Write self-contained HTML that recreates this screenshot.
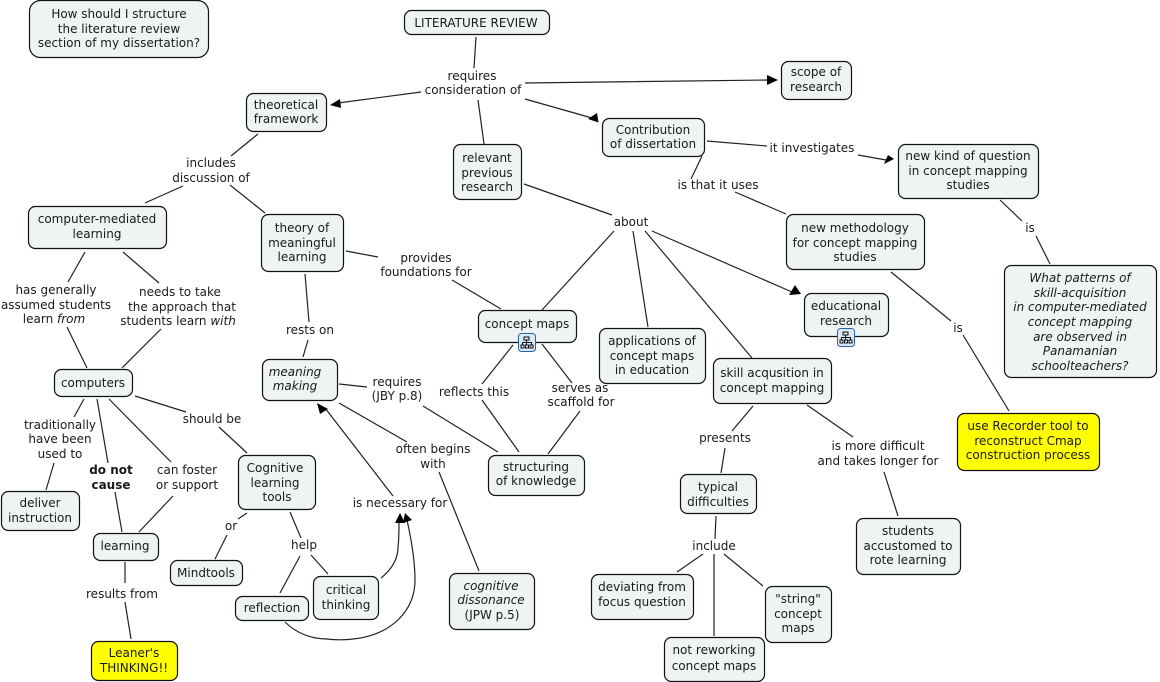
<!DOCTYPE html>
<html><head><meta charset="utf-8"><style>
html,body{margin:0;padding:0;background:#fff}
svg{display:block}
text{font-family:"DejaVu Sans","Liberation Sans",sans-serif;font-size:12px;fill:#1a1a1a;text-anchor:middle}
.n{fill:#eef3f3;stroke:#111;stroke-width:1.2}
.y{fill:#ffff00;stroke:#111;stroke-width:1.2}
.l{stroke:#222;stroke-width:1.2;fill:none}
.a{fill:#000}
.i{font-style:italic}
.b{font-weight:bold}
</style></head><body>
<svg width="1160" height="682" viewBox="0 0 1160 682" xmlns="http://www.w3.org/2000/svg">
<g class="l">
<path d="M476 37L474 68M478 100L484 144M525 83L770 80M525 99L592 118M421 92L338 103"/>
<path d="M258 134L231 156M183 186L145 203M230 185L265 213"/>
<path d="M707 141L767 146M858 155L886 160M702 156L691 179M735 192L786 214M1000 200L1022 221M1036 236L1050 264"/>
<path d="M524 184L612 215M614 231L542 310M633 231L648 327M645 231L752 358M652 231L792 292"/>
<path d="M891 272L951 321M963 335L1009 411"/>
<path d="M346 251L378 257M452 280L501 309M305 274L309 322M308 340L303 357"/>
<path d="M85 252L68 282M123 252L159 283M67 327L87 368M161 329L122 368"/>
<path d="M339 384L367 387M423 406L498 452M339 403L407 442M439 472L479 571"/>
<path d="M513 345L482 384M482 400L519 452M542 344L572 383M580 411L548 454"/>
<path d="M753 406L732 431M725 448L721 473M807 405L853 437M884 472L898 516M716 516L715 539M703 554L677 572M714 554L714 636M724 554L763 586"/>
<path d="M135 396L186 412M219 427L247 453M109 399L171 462M97 399L108 463M84 399L74 417M54 463L46 490M115 492L122 532M173 496L139 532M125 562L125 583M125 602L131 639"/>
<path d="M290 512L301 538M300 556L280 593M311 555L328 574M247 513L238 519M227 535L215 559"/>
<path d="M393 496L325 408"/>
<path d="M381 578C391 570 398 560 398 547C399 540 399 530 399 520"/>
<path d="M285 622C295 632 310 639 327 639C335 640 345 640 353 639C392 635 415 610 415 580C415 560 411 538 407 520"/>
</g>
<g class="a">
<polygon points="778,80 767,75 767,85"/>
<polygon points="598.500,122.500 597,113 588,119"/>
<polygon points="330,105 340,99 341,108"/>
<polygon points="894,159 888,155 884,164"/>
<polygon points="801,294 795,285 789,295"/>
<polygon points="317,403 328,409 320,414"/>
<polygon points="400,513 395,523 405,523"/>
<polygon points="405,513 403,523 412,520"/>
</g>

<rect class="n" x="29.500" y="0.500" width="179" height="57" rx="11"/>
<rect class="n" x="404.500" y="10.500" width="145" height="24" rx="7"/>
<rect class="n" x="781.500" y="61.500" width="70" height="38" rx="7"/>
<rect class="n" x="246.500" y="93.500" width="80" height="38" rx="7"/>
<rect class="n" x="602.500" y="118.500" width="102" height="38" rx="7"/>
<rect class="n" x="453.500" y="144.500" width="68" height="55" rx="7"/>
<rect class="n" x="898.500" y="144.500" width="140" height="54" rx="7"/>
<rect class="n" x="786.500" y="214.500" width="138" height="55" rx="7"/>
<rect class="n" x="28.500" y="206.500" width="138" height="42" rx="7"/>
<rect class="n" x="261.500" y="214.500" width="82" height="57" rx="7"/>
<rect class="n" x="1004.500" y="265.500" width="152" height="112" rx="7"/>
<rect class="n" x="478.500" y="310.500" width="98" height="32" rx="7"/>
<rect class="n" x="804.500" y="293.500" width="84" height="43" rx="7"/>
<rect class="n" x="599.500" y="328.500" width="106" height="55" rx="7"/>
<rect class="n" x="713.500" y="358.500" width="118" height="45" rx="7"/>
<rect class="n" x="262.500" y="359.500" width="75" height="41" rx="7"/>
<rect class="n" x="54.500" y="369.500" width="78" height="27" rx="7"/>
<rect class="y" x="957.500" y="413.500" width="142" height="57" rx="7"/>
<rect class="n" x="488.500" y="455.500" width="96" height="40" rx="7"/>
<rect class="n" x="238.500" y="455.500" width="77" height="54" rx="7"/>
<rect class="n" x="680.500" y="474.500" width="76" height="39" rx="7"/>
<rect class="n" x="1.500" y="491.500" width="78" height="39" rx="7"/>
<rect class="n" x="93.500" y="533.500" width="65" height="27" rx="7"/>
<rect class="n" x="856.500" y="518.500" width="104" height="56" rx="7"/>
<rect class="n" x="170.500" y="560.500" width="72" height="25" rx="7"/>
<rect class="n" x="449.500" y="573.500" width="85" height="56" rx="7"/>
<rect class="n" x="591.500" y="574.500" width="102" height="45" rx="7"/>
<rect class="n" x="765.500" y="586.500" width="66" height="56" rx="7"/>
<rect class="n" x="235.500" y="596.500" width="73" height="24" rx="7"/>
<rect class="n" x="313.500" y="576.500" width="65" height="43" rx="7"/>
<rect class="n" x="664.500" y="637.500" width="100" height="44" rx="7"/>
<rect class="y" x="91.500" y="641.500" width="86" height="39" rx="7"/>

<g>
<rect x="518.500" y="333.500" width="17" height="18" rx="3" fill="#dbe8f6" stroke="#2a62a8"/>
<path d="M524 337h5v3h-5zM521 345h3v3h-3zM525.500 345h3v3h-3zM530 345h3v3h-3zM526.500 340v5M522.500 345v-2.500h9v2.500" fill="none" stroke="#111"/>
<rect x="837.500" y="328.500" width="17" height="18" rx="3" fill="#dbe8f6" stroke="#2a62a8"/>
<path d="M843 332h5v3h-5zM840 340h3v3h-3zM844.500 340h3v3h-3zM849 340h3v3h-3zM845.500 335v5M841.500 340v-2.500h9v2.500" fill="none" stroke="#111"/>
</g>

<text x="119" y="18">How should I structure</text>
<text x="119" y="33">the literature review</text>
<text x="119" y="47">section of my dissertation?</text>
<text x="476" y="27">LITERATURE REVIEW</text>
<text x="472" y="80">requires</text>
<text x="473" y="94">consideration of</text>
<text x="816" y="76">scope of</text>
<text x="816" y="91">research</text>
<text x="286" y="109">theoretical</text>
<text x="286" y="123">framework</text>
<text x="653" y="134">Contribution</text>
<text x="653" y="148">of dissertation</text>
<text x="812" y="152">it investigates</text>
<text x="487" y="162">relevant</text>
<text x="487" y="177">previous</text>
<text x="487" y="191">research</text>
<text x="968" y="160">new kind of question</text>
<text x="968" y="175">in concept mapping</text>
<text x="968" y="189">studies</text>
<text x="211" y="167">includes</text>
<text x="211" y="182">discussion of</text>
<text x="718" y="189">is that it uses</text>
<text x="631" y="226">about</text>
<text x="1030" y="232">is</text>
<text x="855" y="232">new methodology</text>
<text x="855" y="247">for concept mapping</text>
<text x="855" y="261">studies</text>
<text x="97" y="223">computer-mediated</text>
<text x="97" y="238">learning</text>
<text x="302" y="232">theory of</text>
<text x="302" y="247">meaningful</text>
<text x="302" y="261">learning</text>
<text x="426" y="262">provides</text>
<text x="426" y="276">foundations for</text>
<text x="56" y="294">has generally</text>
<text x="56" y="309">assumed students</text>
<text x="54" y="323">learn <tspan class="i">from</tspan></text>
<text x="180" y="296">needs to take</text>
<text x="182" y="311">the approach that</text>
<text x="178" y="325">students learn <tspan class="i">with</tspan></text>
<text x="1080" y="282" class="i">What patterns of</text>
<text x="1080" y="297" class="i">skill-acquisition</text>
<text x="1080" y="311" class="i">in computer-mediated</text>
<text x="1080" y="326" class="i">concept mapping</text>
<text x="1080" y="341" class="i">are observed in</text>
<text x="1080" y="355" class="i">Panamanian</text>
<text x="1080" y="370" class="i">schoolteachers?</text>
<text x="527" y="328">concept maps</text>
<text x="846" y="310">educational</text>
<text x="846" y="325">research</text>
<text x="958" y="332">is</text>
<text x="652" y="345">applications of</text>
<text x="652" y="360">concept maps</text>
<text x="652" y="374">in education</text>
<text x="310" y="334">rests on</text>
<text x="772" y="377">skill acqusition in</text>
<text x="772" y="392">concept mapping</text>
<text x="295" y="376" class="i">meaning</text>
<text x="295" y="390" class="i">making</text>
<text x="397" y="386">requires</text>
<text x="397" y="400">(JBY p.8)</text>
<text x="474" y="396">reflects this</text>
<text x="580" y="392">serves as</text>
<text x="581" y="406">scaffold for</text>
<text x="93" y="387">computers</text>
<text x="212" y="423">should be</text>
<text x="60" y="429">traditionally</text>
<text x="60" y="443">have been</text>
<text x="60" y="458">used to</text>
<text x="433" y="453">often begins</text>
<text x="433" y="468">with</text>
<text x="725" y="442">presents</text>
<text x="878" y="450">is more difficult</text>
<text x="878" y="465">and takes longer for</text>
<text x="1028" y="430">use Recorder tool to</text>
<text x="1028" y="445">reconstruct Cmap</text>
<text x="1028" y="459">construction process</text>
<text x="536" y="471">structuring</text>
<text x="536" y="485">of knowledge</text>
<text x="111" y="474" class="b">do not</text>
<text x="111" y="489" class="b">cause</text>
<text x="187" y="474">can foster</text>
<text x="187" y="489">or support</text>
<text x="275" y="472">Cognitive</text>
<text x="275" y="487">learning</text>
<text x="277" y="501">tools</text>
<text x="718" y="491">typical</text>
<text x="718" y="506">difficulties</text>
<text x="400" y="507">is necessary for</text>
<text x="40" y="507">deliver</text>
<text x="40" y="522">instruction</text>
<text x="231" y="530">or</text>
<text x="908" y="535">students</text>
<text x="908" y="550">accustomed to</text>
<text x="908" y="564">rote learning</text>
<text x="125" y="550">learning</text>
<text x="304" y="549">help</text>
<text x="714" y="550">include</text>
<text x="206" y="577">Mindtools</text>
<text x="491" y="590" class="i">cognitive</text>
<text x="491" y="604" class="i">dissonance</text>
<text x="492" y="619">(JPW p.5)</text>
<text x="642" y="591">deviating from</text>
<text x="642" y="606">focus question</text>
<text x="798" y="603">"string"</text>
<text x="798" y="618">concept</text>
<text x="798" y="632">maps</text>
<text x="122" y="598">results from</text>
<text x="346" y="594">critical</text>
<text x="346" y="609">thinking</text>
<text x="272" y="612">reflection</text>
<text x="714" y="654">not reworking</text>
<text x="714" y="670">concept maps</text>
<text x="134" y="657">Leaner's</text>
<text x="134" y="672">THINKING!!</text>
</svg>
</body></html>
